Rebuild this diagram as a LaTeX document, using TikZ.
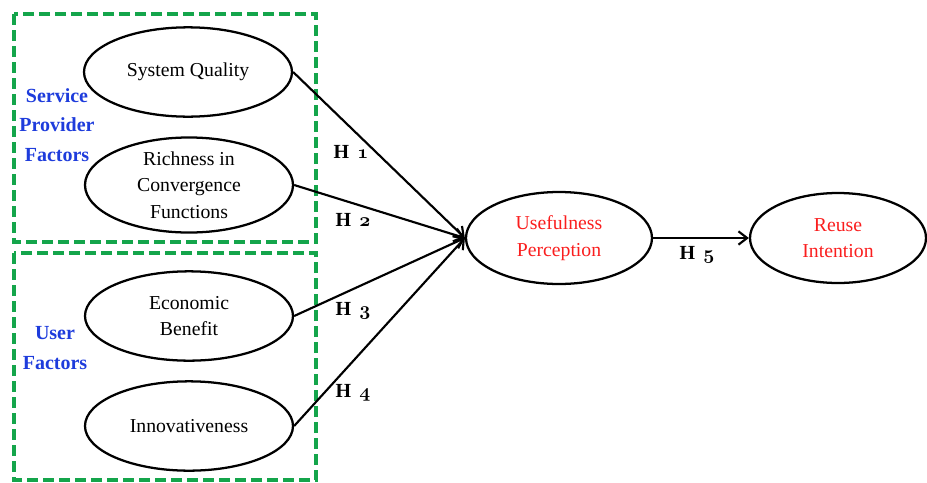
\documentclass[tikz,border=0pt]{standalone}
\usepackage{fontspec}
\setmainfont{Liberation Serif}
\usetikzlibrary{shapes.geometric,arrows.meta}
\definecolor{groupgreen}{RGB}{20,165,75}
\definecolor{factorblue}{RGB}{30,60,220}
\definecolor{outred}{RGB}{250,30,30}
% old-style digit for hypothesis labels
\newcommand{\hypnum}[1]{{\usefont{OML}{cmm}{b}{it}#1}}
\begin{document}
\begin{tikzpicture}[x=0.75pt,y=-0.75pt,
  every node/.style={font=\fontsize{14.8}{20}\selectfont},
  construct/.style={ellipse,draw,line width=1.7pt,inner sep=0pt,align=center,
    minimum width=156pt,minimum height=67pt},
  outcome/.style={construct,text=outred},
  group/.style={draw=groupgreen,line width=2.5pt,dash pattern=on 8pt off 4pt},
  grouplabel/.style={text=factorblue,font=\fontsize{15}{22}\selectfont\bfseries,align=center},
  hyp/.style={font=\fontsize{15}{16}\selectfont\bfseries},
  arr/.style={line width=1.6pt,-{Straight Barb[length=6.5pt,width=10pt,line width=1.6pt]}}]
\useasboundingbox (0,0) rectangle (927,482);

% factor groups
\draw[group] (14,14) rectangle (316,242);
\draw[group] (14,253) rectangle (316,480);
\node[grouplabel] (spf) at (57,125) {Service\\Provider\\Factors};
\node[grouplabel] (uf) at (55,348) {User\\Factors};

% constructs
\node[construct] (sq) at (188,72) {System Quality};
\node[construct] (rc) at (189,185) {Richness in\\Convergence\\Functions};
\node[construct] (eb) at (189,316) {Economic\\Benefit};
\node[construct] (in) at (189,426) {Innovativeness};
\node[outcome,minimum width=139.5pt,minimum height=69pt] (up) at (559,238) {Usefulness\\Perception};
\node[outcome,minimum width=132pt,minimum height=67.5pt] (ri) at (838,238) {Reuse\\Intention};

% hypotheses
\draw[arr] (sq.east) -- (up.west);
\draw[arr] (rc.east) -- (up.west);
\draw[arr] (eb.east) -- (up.west);
\draw[arr] (in.east) -- (up.west);
\draw[arr] (up.east) -- (ri.west);

\node[hyp] (h1) at (351,152) {H\, \hypnum{1}};
\node[hyp] (h2) at (353,220) {H\, \hypnum{2}};
\node[hyp] (h3) at (353,311) {H\, \hypnum{3}};
\node[hyp] (h4) at (353,393) {H\, \hypnum{4}};
\node[hyp] (h5) at (697,255) {H\, \hypnum{5}};
\end{tikzpicture}
\end{document}
